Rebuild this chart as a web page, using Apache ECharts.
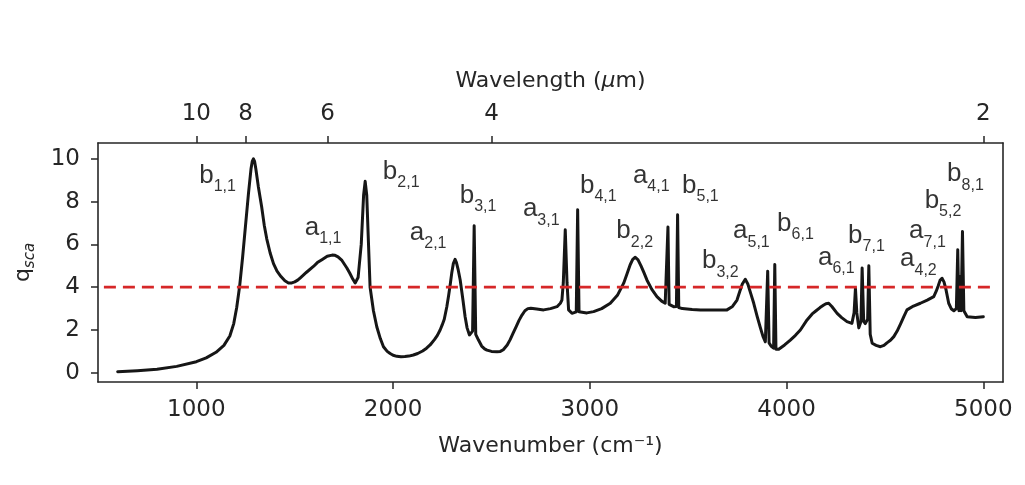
<!DOCTYPE html>
<html>
<head>
<meta charset="utf-8">
<script src="https://cdn.jsdelivr.net/npm/echarts@6/dist/echarts.min.js"></script>
<style>
  html, body { margin: 0; padding: 0; background: #fff; }
  #qsca_chart { width: 1025px; height: 485px; }
</style>
</head>
<body>
<div id="qsca_chart"></div>
<script>
// spectrum
var wavenumber = [
    600, 700, 800, 900, 1000, 1050, 1100, 1140, 1170, 1190,
    1205, 1220, 1235, 1250, 1265, 1278, 1284, 1290, 1296, 1302,
    1315, 1332, 1345, 1358, 1375, 1392, 1410, 1430, 1450, 1468,
    1485, 1500, 1515, 1530, 1560, 1595, 1615, 1640, 1665, 1690,
    1705, 1720, 1740, 1765, 1780, 1795, 1807, 1815, 1822, 1838,
    1850, 1858, 1866, 1875, 1883, 1900, 1917, 1935, 1951, 1970,
    1985, 2000, 2019, 2040, 2060, 2080, 2103, 2125, 2150, 2170,
    2188, 2210, 2225, 2239, 2250, 2260, 2273, 2282, 2290, 2298,
    2306, 2315, 2322, 2330, 2341, 2355, 2366, 2376, 2388, 2398,
    2404, 2412, 2420, 2434, 2450, 2465, 2477, 2500, 2528, 2545,
    2560, 2580, 2595, 2610, 2625, 2640, 2655, 2670, 2685, 2700,
    2730, 2765, 2800, 2833, 2850, 2858, 2865, 2875, 2884, 2892,
    2909, 2931, 2938, 2945, 2951, 2985, 3019, 3060, 3104, 3140,
    3172, 3190, 3205, 3218, 3231, 3245, 3260, 3275, 3290, 3315,
    3341, 3365, 3383, 3391, 3397, 3403, 3426, 3440, 3446, 3452,
    3470, 3520, 3562, 3630, 3697, 3725, 3748, 3762, 3775, 3790,
    3803, 3818, 3833, 3850, 3867, 3880, 3892, 3898, 3904, 3911,
    3921, 3934, 3940, 3946, 3951, 3960, 3990, 4019, 4045, 4070,
    4104, 4130, 4150, 4170, 4189, 4200, 4214, 4230, 4257, 4280,
    4307, 4332, 4343, 4350, 4357, 4367, 4378, 4384, 4392, 4400,
    4412, 4418, 4425, 4435, 4455, 4477, 4495, 4510, 4528, 4545,
    4562, 4580, 4597, 4612, 4645, 4680, 4715, 4748, 4760, 4770,
    4780, 4790, 4800, 4810, 4824, 4838, 4850, 4863, 4870, 4876,
    4882, 4887, 4894, 4901, 4918, 4960, 5000];
var qsca = [
    0.05, 0.10, 0.17, 0.30, 0.52, 0.70, 0.96, 1.28, 1.72, 2.30,
    3.05, 4.05, 5.40, 6.90, 8.40, 9.55, 9.88, 10.0, 9.88, 9.55,
    8.70, 7.75, 6.90, 6.25, 5.60, 5.10, 4.75, 4.50, 4.30, 4.20,
    4.20, 4.25, 4.33, 4.45, 4.70, 4.97, 5.15, 5.30, 5.45, 5.50,
    5.49, 5.42, 5.25, 4.90, 4.65, 4.38, 4.20, 4.25, 4.45, 6.00,
    8.30, 8.95, 8.30, 6.00, 4.00, 2.90, 2.15, 1.60, 1.22, 1.00,
    0.90, 0.82, 0.77, 0.75, 0.76, 0.78, 0.83, 0.90, 1.02, 1.15,
    1.30, 1.55, 1.75, 2.00, 2.25, 2.50, 3.09, 3.60, 4.10, 4.66,
    5.10, 5.30, 5.15, 4.85, 4.34, 3.40, 2.62, 2.10, 1.77, 1.80,
    1.95, 6.87, 1.80, 1.53, 1.25, 1.12, 1.06, 1.00, 0.98, 1.00,
    1.08, 1.30, 1.55, 1.85, 2.15, 2.45, 2.70, 2.90, 3.00, 3.02,
    2.98, 2.94, 3.00, 3.09, 3.25, 3.40, 4.20, 6.68, 4.20, 2.94,
    2.78, 2.85, 7.62, 2.85, 2.78, 2.80, 2.86, 3.00, 3.25, 3.62,
    4.19, 4.65, 5.05, 5.30, 5.40, 5.28, 5.00, 4.68, 4.34, 3.90,
    3.56, 3.35, 3.25, 3.28, 6.81, 3.20, 3.09, 3.10, 7.39, 3.05,
    3.00, 2.96, 2.94, 2.94, 2.94, 3.10, 3.40, 3.80, 4.15, 4.37,
    4.15, 3.70, 3.25, 2.65, 2.10, 1.70, 1.45, 1.50, 4.75, 1.40,
    1.25, 1.15, 5.06, 1.10, 1.06, 1.10, 1.30, 1.53, 1.75, 2.00,
    2.47, 2.75, 2.90, 3.05, 3.17, 3.23, 3.25, 3.10, 2.78, 2.58,
    2.39, 2.31, 2.80, 3.95, 2.80, 2.10, 2.40, 4.90, 2.40, 2.30,
    2.50, 5.00, 1.80, 1.38, 1.28, 1.22, 1.28, 1.40, 1.52, 1.69,
    1.95, 2.30, 2.65, 2.94, 3.12, 3.25, 3.40, 3.56, 3.80, 4.05,
    4.32, 4.42, 4.25, 3.90, 3.25, 2.98, 2.90, 3.00, 5.75, 2.90,
    4.50, 2.90, 6.60, 2.90, 2.62, 2.58, 2.62];

var threshold = 4;

// peak labels: letter, subscript, where the text sits (data coords)
var labelSym = ['b', 'a', 'b', 'a', 'b', 'a', 'b', 'a', 'b', 'b', 'b', 'a', 'b', 'a', 'b', 'a', 'a', 'b', 'b'];
var labelSub = ['1,1', '1,1', '2,1', '2,1', '3,1', '3,1', '4,1', '4,1', '5,1', '2,2', '3,2', '5,1', '6,1', '6,1', '7,1', '7,1', '4,2', '5,2', '8,1'];
var labelWn = [1108, 1644, 2041, 2178, 2432, 2753, 3043, 3312, 3562, 3228, 3663, 3821, 4045, 4253, 4406, 4716, 4670, 4795, 4909];
var labelQ = [9.20, 6.78, 9.40, 6.54, 8.26, 7.65, 8.73, 9.20, 8.73, 6.62, 5.22, 6.62, 6.95, 5.37, 6.39, 6.62, 5.31, 8.03, 9.28];

var xTicks = [1000, 2000, 3000, 4000, 5000];
var yTicks = [0, 2, 4, 6, 8, 10];
var wavelengthTicks = [10, 8, 6, 4, 2];

var myChart = echarts.init(document.getElementById('qsca_chart'));

var curve = [];
for (var i = 0; i < wavenumber.length; i++) {
    curve.push([wavenumber[i], qsca[i]]);
}
var peaks = [];
for (var j = 0; j < labelWn.length; j++) {
    peaks.push([labelWn[j], labelQ[j]]);
}
// wavelength (um) -> wavenumber (cm-1) for the top axis
var topTicks = wavelengthTicks.map(function (w) { return 10000 / w; });

var axisColor = '#262626';
var tickFont = 'DejaVu Sans';

var option = {
    animation: false,
    grid: {
        left: 98,
        right: 22,
        top: 143,
        bottom: 103
    },
    xAxis: [{
        type: 'value',
        position: 'bottom',
        min: 500,
        max: 5100,
        splitLine: {show: false},
        axisLine: {onZero: false, lineStyle: {color: axisColor, width: 1.6}},
        axisTick: {show: true, length: 7, customValues: xTicks, lineStyle: {color: axisColor, width: 1.5}},
        axisLabel: {
            customValues: xTicks,
            formatter: function (v) { return String(v); },
            fontSize: 23, fontFamily: tickFont, color: axisColor, margin: 17
        },
        name: 'Wavenumber (cm\u207B\u00B9)',
        nameLocation: 'middle',
        nameGap: 53,
        nameTextStyle: {fontSize: 22, fontFamily: tickFont, color: axisColor}
    }, {
        type: 'value',
        position: 'top',
        min: 500,
        max: 5100,
        splitLine: {show: false},
        axisLine: {onZero: false, lineStyle: {color: axisColor, width: 1.6}},
        axisTick: {show: true, length: 7, customValues: topTicks, lineStyle: {color: axisColor, width: 1.5}},
        axisLabel: {
            customValues: topTicks,
            formatter: function (v) { return String(Math.round(10000 / v)); },
            fontSize: 23, fontFamily: tickFont, color: axisColor, margin: 17
        },
        name: '{n|Wavelength (}{i|\u03BC}{n|m)}',
        nameLocation: 'middle',
        nameGap: 51,
        nameTextStyle: {
            rich: {
                n: {fontSize: 22, fontFamily: tickFont, color: axisColor},
                i: {fontSize: 22, fontFamily: tickFont, fontStyle: 'italic', color: axisColor}
            }
        }
    }],
    yAxis: [{
        type: 'value',
        min: -0.43,
        max: 10.74,
        splitLine: {show: false},
        axisLine: {show: true, onZero: false, lineStyle: {color: axisColor, width: 1.6}},
        axisTick: {show: true, length: 7, customValues: yTicks, lineStyle: {color: axisColor, width: 1.5}},
        axisLabel: {customValues: yTicks, fontSize: 23, fontFamily: tickFont, color: axisColor, margin: 18},
        name: '{q|q}{s|sca}',
        nameLocation: 'middle',
        nameGap: 62,
        nameTextStyle: {
            rich: {
                q: {fontSize: 22, fontFamily: tickFont, color: axisColor, lineHeight: 26},
                s: {fontSize: 15, fontFamily: tickFont, fontStyle: 'italic', color: axisColor, lineHeight: 26, padding: [14, 0, 0, 0]}
            }
        }
    }, {
        type: 'value',
        position: 'right',
        min: -0.43,
        max: 10.74,
        splitLine: {show: false},
        axisLine: {show: true, onZero: false, lineStyle: {color: axisColor, width: 1.6}},
        axisTick: {show: false},
        axisLabel: {show: false}
    }],
    series: [{
        name: 'threshold',
        type: 'line',
        data: [[530, threshold], [5050, threshold]],
        showSymbol: false,
        silent: true,
        lineStyle: {color: '#d62728', width: 2.8, type: [12, 7]},
        z: 3
    }, {
        name: 'qsca',
        type: 'line',
        data: curve,
        showSymbol: false,
        smooth: false,
        lineStyle: {color: '#161616', width: 3, join: 'round', cap: 'round'},
        z: 2
    }, {
        name: 'peaks',
        type: 'scatter',
        data: peaks,
        symbolSize: 0,
        silent: true,
        label: {
            show: true,
            position: 'inside',
            formatter: function (p) {
                return '{m|' + labelSym[p.dataIndex] + '}{s|' + labelSub[p.dataIndex] + '}';
            },
            rich: {
                m: {fontSize: 26, fontFamily: 'Liberation Sans', color: '#000', lineHeight: 30},
                s: {fontSize: 16, fontFamily: 'Liberation Sans', color: '#000', lineHeight: 30, padding: [22, 0, 0, 0]}
            }
        },
        z: 4
    }]
};

myChart.setOption(option);
</script>
</body>
</html>
